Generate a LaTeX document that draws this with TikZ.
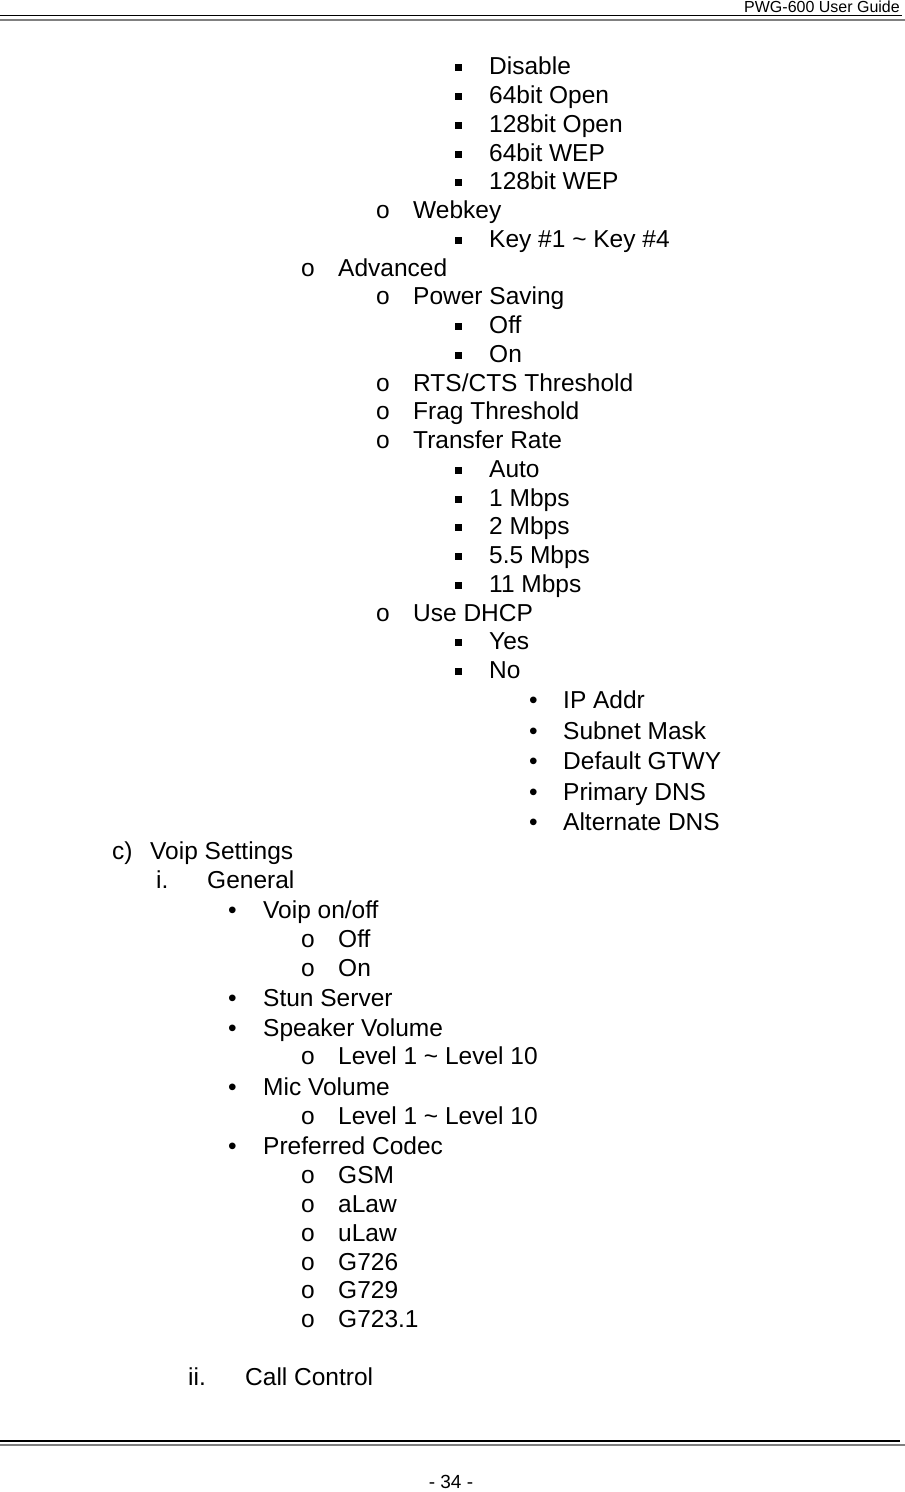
\documentclass[tikz,border=0pt]{standalone}
\usepackage{fontspec}
\setmainfont{Liberation Sans}
\begin{document}
\begin{tikzpicture}[x=1pt,y=-1pt,
  t/.style={anchor=west,inner sep=0pt,font=\fontsize{24.5}{28}\selectfont,text height=17.5pt,text depth=5pt},
  sq/.style={fill=black,minimum size=7pt,inner sep=0pt}]
\useasboundingbox (0,0) rectangle (905,1492);
\node[anchor=east,inner sep=0pt,font=\fontsize{16}{18}\selectfont] (hdr) at (900,7) {PWG-600 User Guide};
\draw[line width=0.8pt] (0,15) -- (902,15);
\draw[line width=2pt,gray] (0,20) -- (905,20);
\draw[line width=2pt] (0,1441) -- (900,1441);
\draw[line width=1.2pt,gray] (0,1445) -- (905,1445);
\node[inner sep=0pt,font=\fontsize{19}{21}\selectfont] (pg) at (451,1482) {- 34 -};
% square bullets
\foreach \y/\s [count=\i] in {68/Disable,97/64bit Open,126/128bit Open,155/64bit WEP,183/128bit WEP,241/{Key \#1 \textasciitilde{} Key \#4},327/Off,356/On,471/Auto,500/1 Mbps,528/2 Mbps,557/5.5 Mbps,586/11 Mbps,643/Yes,672/No}{
  \node[sq] (sb\i) at (458,\y-1) {};
  \node[t] (st\i) at (489,\y) {\s};
}
% o bullets level 3
\foreach \y/\s [count=\i] in {212/Webkey,298/Power Saving,385/{RTS/CTS Threshold},413/Frag Threshold,442/Transfer Rate,615/Use DHCP}{
  \node[t] (ob\i) at (376,\y) {o};
  \node[t] (ot\i) at (413,\y) {\s};
}
% o bullets level 2
\foreach \y/\s [count=\i] in {270/Advanced,941/Off,970/On,1058/{Level 1 \textasciitilde{} Level 10},1118/{Level 1 \textasciitilde{} Level 10},1177/GSM,1206/aLaw,1235/uLaw,1264/G726,1292/G729,1321/G723.1}{
  \node[t] (pb\i) at (301,\y) {o};
  \node[t] (pt\i) at (338,\y) {\s};
}
% dot bullets deep
\foreach \y/\s [count=\i] in {702/IP Addr,733/Subnet Mask,763/Default GTWY,794/Primary DNS,824/Alternate DNS}{
  \node[t] (db\i) at (529,\y) {•};
  \node[t] (dt\i) at (563,\y) {\s};
}
% dot bullets voip
\foreach \y/\s [count=\i] in {912/{Voip on/off},1000/Stun Server,1030/Speaker Volume,1089/Mic Volume,1148/Preferred Codec}{
  \node[t] (vb\i) at (228,\y) {•};
  \node[t] (vt\i) at (263,\y) {\s};
}
\node[t] (c1) at (112,853) {c)};
\node[t] (c2) at (150,853) {Voip Settings};
\node[t] (g1) at (156,882) {i.};
\node[t] (g2) at (207,882) {General};
\node[t] (h1) at (188,1379) {ii.};
\node[t] (h2) at (245,1379) {Call Control};
\end{tikzpicture}
\end{document}
